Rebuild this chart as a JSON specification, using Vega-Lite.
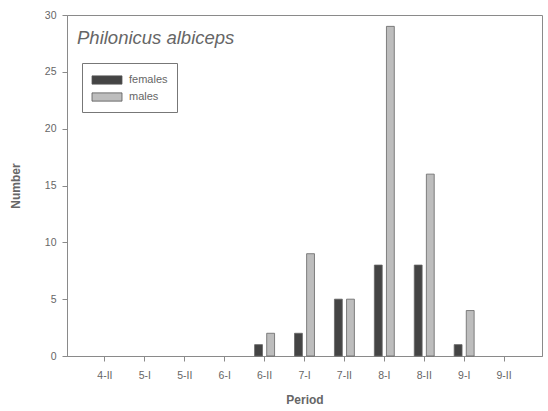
{
  "$schema": "https://vega.github.io/schema/vega-lite/v6.json",
  "autosize": "none",
  "width": 475,
  "height": 341,
  "padding": {"left": 67, "top": 15, "right": 6, "bottom": 55},
  "background": "white",
  "config": {
    "view": {"stroke": "#8a8a8a", "strokeWidth": 1},
    "font": "Liberation Sans",
    "axis": {"labelColor": "#666", "titleColor": "#666", "domainColor": "#8a8a8a", "tickColor": "#8a8a8a", "grid": false, "labelFont": "Liberation Sans", "titleFont": "Liberation Sans"}
  },
  "title": {
    "text": "Philonicus albiceps",
    "anchor": "start",
    "frame": "group",
    "orient": "top",
    "dx": 10,
    "dy": 41,
    "font": "Liberation Sans",
    "fontSize": 18.5,
    "fontStyle": "italic",
    "fontWeight": "normal",
    "color": "#666"
  },
  "data": {
    "values": [
      {"period": "4-II", "sex": "females", "n": 0},
      {"period": "4-II", "sex": "males", "n": 0},
      {"period": "5-I", "sex": "females", "n": 0},
      {"period": "5-I", "sex": "males", "n": 0},
      {"period": "5-II", "sex": "females", "n": 0},
      {"period": "5-II", "sex": "males", "n": 0},
      {"period": "6-I", "sex": "females", "n": 0},
      {"period": "6-I", "sex": "males", "n": 0},
      {"period": "6-II", "sex": "females", "n": 1},
      {"period": "6-II", "sex": "males", "n": 2},
      {"period": "7-I", "sex": "females", "n": 2},
      {"period": "7-I", "sex": "males", "n": 9},
      {"period": "7-II", "sex": "females", "n": 5},
      {"period": "7-II", "sex": "males", "n": 5},
      {"period": "8-I", "sex": "females", "n": 8},
      {"period": "8-I", "sex": "males", "n": 29},
      {"period": "8-II", "sex": "females", "n": 8},
      {"period": "8-II", "sex": "males", "n": 16},
      {"period": "9-I", "sex": "females", "n": 1},
      {"period": "9-I", "sex": "males", "n": 4},
      {"period": "9-II", "sex": "females", "n": 0},
      {"period": "9-II", "sex": "males", "n": 0}
    ]
  },
  "mark": {"type": "bar", "strokeWidth": 0.8},
  "encoding": {
    "x": {
      "field": "period",
      "type": "nominal",
      "sort": ["4-II", "5-I", "5-II", "6-I", "6-II", "7-I", "7-II", "8-I", "8-II", "9-I", "9-II"],
      "scale": {"paddingInner": 0.5, "paddingOuter": 0.7},
      "axis": {"labelAngle": 0, "title": "Period", "titleFontSize": 12, "titleFontWeight": "bold", "titlePadding": 14, "labelFontSize": 10.5, "labelPadding": 9, "tickSize": 5, "domain": true}
    },
    "xOffset": {
      "field": "sex",
      "type": "nominal",
      "scale": {"paddingInner": 0.35}
    },
    "y": {
      "field": "n",
      "type": "quantitative",
      "scale": {"domain": [0, 30], "nice": false},
      "axis": {"values": [0, 5, 10, 15, 20, 25, 30], "title": "Number", "titleFontSize": 12, "titleFontWeight": "bold", "titlePadding": 22, "labelFontSize": 10.5, "tickSize": 5, "labelPadding": 6}
    },
    "color": {
      "field": "sex",
      "type": "nominal",
      "scale": {"domain": ["females", "males"], "range": ["#444444", "#bdbdbd"]},
      "legend": {
        "title": null,
        "orient": "none",
        "legendX": 15,
        "legendY": 48,
        "strokeColor": "#777",
        "fillColor": "white",
        "padding": 9,
        "symbolType": "M-2,-0.55H2V0.55H-2Z",
        "symbolSize": 225,
        "symbolStrokeColor": "#555",
        "symbolStrokeWidth": 0.8,
        "symbolOffset": 8,
        "labelFontSize": 11,
        "labelColor": "#666",
        "labelOffset": 14,
        "labelLimit": 200,
        "rowPadding": 3
      }
    },
    "stroke": {"value": "#666"},
    "strokeOpacity": {"condition": {"test": "datum.n > 0", "value": 1}, "value": 0}
  }
}
